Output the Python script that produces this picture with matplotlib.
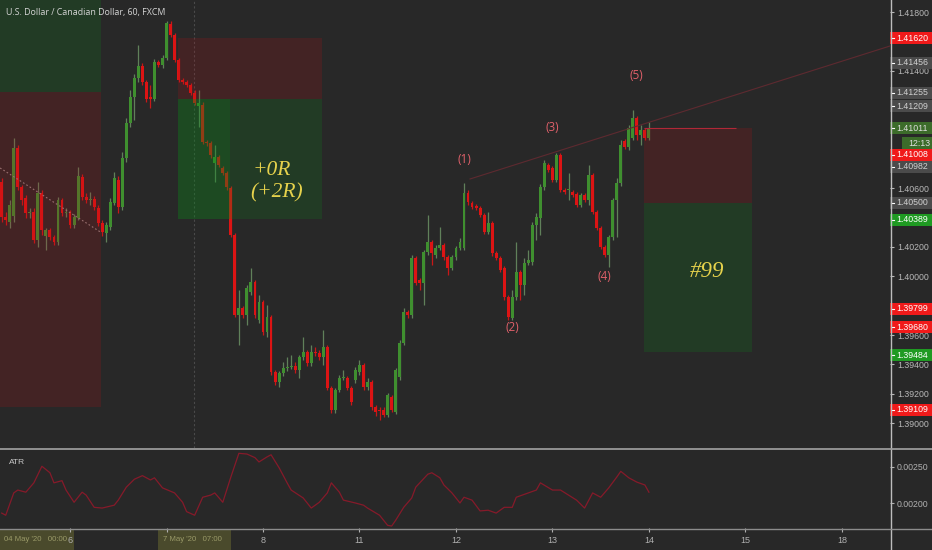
import matplotlib
matplotlib.use('Agg')
import matplotlib.pyplot as plt
import matplotlib.transforms as mtransforms
from matplotlib.patches import Rectangle
from matplotlib.lines import Line2D

plt.rcParams['font.family'] = ['Liberation Sans', 'DejaVu Sans']

# hourly USDCAD bars (bar index = hour), open/high/low/close
opens = [1.40642, 1.40404, 1.40370, 1.40411, 1.40875, 1.40608, 1.40534, 1.40432, 1.40438, 1.40248,
         1.40568, 1.40275, 1.40316, 1.40268, 1.40234, 1.40520, 1.40432, 1.40438, 1.40350, 1.40398,
         1.40676, 1.40540, 1.40520, 1.40527, 1.40466, 1.40364, 1.40296, 1.40336, 1.40500, 1.40656,
         1.40472, 1.40807, 1.41045, 1.41221, 1.41351, 1.41432, 1.41323, 1.41221, 1.41208, 1.41459,
         1.41439, 1.41488, 1.41719, 1.41644, 1.41473, 1.41337, 1.41323, 1.41303, 1.41249, 1.41160,
         1.41167, 1.40915, 1.40909, 1.40772, 1.40813, 1.40738, 1.40704, 1.40602, 1.40282, 1.39737,
         1.39785, 1.39737, 1.39893, 1.39961, 1.39703, 1.39825, 1.39621, 1.39723, 1.39348, 1.39280,
         1.39342, 1.39376, 1.39382, 1.39389, 1.39362, 1.39451, 1.39485, 1.39410, 1.39485, 1.39479,
         1.39451, 1.39519, 1.39240, 1.39090, 1.39226, 1.39308, 1.39308, 1.39240, 1.39294, 1.39348,
         1.39396, 1.39246, 1.39280, 1.39110, 1.39090, 1.39090, 1.39056, 1.39178, 1.39076, 1.39314,
         1.39547, 1.39757, 1.39737, 1.40126, 1.39975, 1.39955, 1.40166, 1.40234, 1.40146, 1.40193,
         1.40214, 1.40132, 1.40057, 1.40132, 1.40193, 1.40193, 1.40568, 1.40500, 1.40479, 1.40466,
         1.40418, 1.40302, 1.40364, 1.40159, 1.40126, 1.40057, 1.39859, 1.39716, 1.39859, 1.40029,
         1.39941, 1.40091, 1.40097, 1.40350, 1.40398, 1.40608, 1.40758, 1.40738, 1.40656, 1.40827,
         1.40588, 1.40588, 1.40574, 1.40561, 1.40486, 1.40554, 1.40520, 1.40690, 1.40438, 1.40330,
         1.40200, 1.40146, 1.40268, 1.40520, 1.40636, 1.40922, 1.40881, 1.40943, 1.41079, 1.40963,
         1.40997, 1.40943]
highs = [1.40670, 1.40438, 1.40520, 1.40943, 1.40895, 1.40622, 1.40554, 1.40466, 1.40466, 1.40642,
         1.40588, 1.40330, 1.40330, 1.40282, 1.40540, 1.40534, 1.40466, 1.40452, 1.40425, 1.40744,
         1.40697, 1.40568, 1.40574, 1.40547, 1.40486, 1.40384, 1.40370, 1.40534, 1.40710, 1.40683,
         1.40847, 1.41079, 1.41269, 1.41378, 1.41576, 1.41453, 1.41337, 1.41303, 1.41481, 1.41473,
         1.41508, 1.41739, 1.41739, 1.41658, 1.41488, 1.41351, 1.41337, 1.41317, 1.41269, 1.41269,
         1.41187, 1.40929, 1.40922, 1.40895, 1.40827, 1.40751, 1.40717, 1.40615, 1.40296, 1.39907,
         1.39798, 1.39941, 1.40057, 1.39975, 1.39873, 1.39839, 1.39805, 1.39737, 1.39362, 1.39355,
         1.39416, 1.39451, 1.39465, 1.39416, 1.39465, 1.39587, 1.39499, 1.39533, 1.39519, 1.39499,
         1.39635, 1.39533, 1.39253, 1.39240, 1.39328, 1.39362, 1.39321, 1.39253, 1.39382, 1.39430,
         1.39410, 1.39308, 1.39294, 1.39124, 1.39110, 1.39110, 1.39206, 1.39192, 1.39376, 1.39567,
         1.39785, 1.39771, 1.40146, 1.40139, 1.39989, 1.40180, 1.40418, 1.40248, 1.40214, 1.40336,
         1.40228, 1.40146, 1.40146, 1.40207, 1.40262, 1.40636, 1.40588, 1.40513, 1.40493, 1.40479,
         1.40432, 1.40438, 1.40377, 1.40173, 1.40139, 1.40070, 1.39873, 1.39907, 1.40234, 1.40043,
         1.40126, 1.40180, 1.40370, 1.40432, 1.40629, 1.40792, 1.40772, 1.40751, 1.40841, 1.40841,
         1.40602, 1.40704, 1.40588, 1.40574, 1.40568, 1.40568, 1.40758, 1.40704, 1.40452, 1.40343,
         1.40214, 1.40282, 1.40534, 1.40670, 1.40929, 1.40936, 1.41031, 1.41133, 1.41092, 1.41031,
         1.41011, 1.41051]
lows = [1.40370, 1.40350, 1.40330, 1.40370, 1.40588, 1.40486, 1.40398, 1.40398, 1.40228, 1.40200,
        1.40282, 1.40180, 1.40248, 1.40214, 1.40214, 1.40411, 1.40404, 1.40330, 1.40330, 1.40384,
        1.40520, 1.40500, 1.40486, 1.40452, 1.40343, 1.40275, 1.40234, 1.40316, 1.40486, 1.40432,
        1.40452, 1.40778, 1.41017, 1.41065, 1.41323, 1.41303, 1.41187, 1.41147, 1.41194, 1.41425,
        1.41419, 1.41473, 1.41630, 1.41459, 1.41323, 1.41310, 1.41289, 1.41235, 1.41167, 1.41017,
        1.40902, 1.40888, 1.40807, 1.40642, 1.40744, 1.40690, 1.40588, 1.40268, 1.39723, 1.39533,
        1.39716, 1.39669, 1.39873, 1.39716, 1.39683, 1.39601, 1.39587, 1.39328, 1.39260, 1.39246,
        1.39321, 1.39355, 1.39369, 1.39342, 1.39308, 1.39430, 1.39389, 1.39389, 1.39458, 1.39430,
        1.39396, 1.39226, 1.39070, 1.39070, 1.39212, 1.39294, 1.39226, 1.39124, 1.39274, 1.39328,
        1.39226, 1.39226, 1.39090, 1.39049, 1.39022, 1.39042, 1.39042, 1.39076, 1.39063, 1.39294,
        1.39533, 1.39716, 1.39716, 1.39941, 1.39907, 1.39805, 1.40146, 1.40077, 1.40126, 1.40180,
        1.40111, 1.40009, 1.40043, 1.40111, 1.40180, 1.40180, 1.40486, 1.40459, 1.40452, 1.40404,
        1.40289, 1.40289, 1.40139, 1.40111, 1.40029, 1.39839, 1.39703, 1.39703, 1.39839, 1.39839,
        1.39873, 1.40077, 1.40077, 1.40248, 1.40282, 1.40588, 1.40710, 1.40642, 1.40642, 1.40574,
        1.40561, 1.40520, 1.40540, 1.40472, 1.40472, 1.40506, 1.40486, 1.40425, 1.40316, 1.40187,
        1.40132, 1.40063, 1.40248, 1.40268, 1.40615, 1.40868, 1.40861, 1.40929, 1.40929, 1.40895,
        1.40929, 1.40929]
closes = [1.40404, 1.40384, 1.40486, 1.40875, 1.40608, 1.40520, 1.40432, 1.40438, 1.40248, 1.40568,
          1.40316, 1.40316, 1.40268, 1.40234, 1.40520, 1.40432, 1.40438, 1.40350, 1.40404, 1.40683,
          1.40540, 1.40520, 1.40527, 1.40472, 1.40364, 1.40302, 1.40350, 1.40506, 1.40670, 1.40472,
          1.40807, 1.41045, 1.41221, 1.41351, 1.41432, 1.41323, 1.41208, 1.41208, 1.41459, 1.41439,
          1.41488, 1.41726, 1.41644, 1.41473, 1.41337, 1.41323, 1.41303, 1.41249, 1.41181, 1.41181,
          1.40915, 1.40909, 1.40827, 1.40813, 1.40758, 1.40704, 1.40608, 1.40282, 1.39737, 1.39785,
          1.39737, 1.39921, 1.39961, 1.39737, 1.39825, 1.39621, 1.39723, 1.39348, 1.39280, 1.39342,
          1.39376, 1.39382, 1.39389, 1.39362, 1.39451, 1.39485, 1.39410, 1.39485, 1.39479, 1.39451,
          1.39519, 1.39240, 1.39090, 1.39226, 1.39308, 1.39314, 1.39240, 1.39144, 1.39362, 1.39396,
          1.39246, 1.39280, 1.39110, 1.39076, 1.39083, 1.39056, 1.39192, 1.39090, 1.39362, 1.39547,
          1.39757, 1.39737, 1.40126, 1.39955, 1.39955, 1.40166, 1.40234, 1.40159, 1.40193, 1.40214,
          1.40132, 1.40057, 1.40132, 1.40193, 1.40234, 1.40568, 1.40506, 1.40472, 1.40466, 1.40418,
          1.40302, 1.40364, 1.40159, 1.40126, 1.40043, 1.39859, 1.39723, 1.39859, 1.40029, 1.39941,
          1.40091, 1.40111, 1.40350, 1.40404, 1.40608, 1.40772, 1.40724, 1.40656, 1.40827, 1.40588,
          1.40574, 1.40590, 1.40554, 1.40486, 1.40554, 1.40520, 1.40690, 1.40438, 1.40330, 1.40200,
          1.40146, 1.40268, 1.40520, 1.40636, 1.40895, 1.40881, 1.41011, 1.41079, 1.40963, 1.40997,
          1.40943, 1.41008]

# ATR(14)
atr_hours = [0, 1, 3, 4, 6, 8, 10, 12, 13, 15, 16, 18, 20, 21, 23, 25, 28, 29, 31, 33,
             35, 37, 38, 40, 43, 45, 46, 48, 50, 52, 53, 55, 57, 59, 61, 63, 64, 66, 67, 69,
             71, 72, 75, 77, 79, 81, 82, 84, 85, 88, 90, 91, 94, 96, 97, 98, 100, 102, 103, 106,
             107, 109, 110, 112, 114, 115, 117, 119, 121, 123, 125, 127, 128, 131, 133, 134, 137, 139, 141, 143,
             145, 147, 149, 151, 153, 154, 156, 158, 160, 161]
atr_vals = [0.00186, 0.00183, 0.00214, 0.00218, 0.00215, 0.00228, 0.00251, 0.00242, 0.00228, 0.00231,
            0.00218, 0.00201, 0.00215, 0.00211, 0.00194, 0.00193, 0.00197, 0.00204, 0.00222, 0.00233,
            0.00238, 0.00232, 0.00235, 0.00221, 0.00214, 0.00201, 0.00188, 0.00183, 0.00208, 0.00211,
            0.00214, 0.00201, 0.00236, 0.00269, 0.00268, 0.00263, 0.00257, 0.00264, 0.00267, 0.00249,
            0.00228, 0.00218, 0.00207, 0.00193, 0.00201, 0.00214, 0.00228, 0.00215, 0.00204, 0.00200,
            0.00197, 0.00193, 0.00183, 0.00169, 0.00168, 0.00176, 0.00194, 0.00207, 0.00222, 0.00240,
            0.00242, 0.00235, 0.00225, 0.00214, 0.00200, 0.00208, 0.00204, 0.00189, 0.00190, 0.00186,
            0.00194, 0.00194, 0.00208, 0.00214, 0.00218, 0.00228, 0.00218, 0.00218, 0.00211, 0.00204,
            0.00193, 0.00214, 0.00208, 0.00221, 0.00236, 0.00244, 0.00235, 0.00229, 0.00225, 0.00215]

# time axis ("7" is shown by the selected-range label)
day_ticks = [17, 41, 65, 89, 113, 137, 161, 185, 209]
day_labels = ['6', '', '8', '11', '12', '13', '14', '15', '18']
# price axis; levels hidden under badges get no label
price_ticks = [1.390, 1.392, 1.394, 1.396, 1.398, 1.400, 1.402, 1.404, 1.406,
               1.408, 1.410, 1.412, 1.414, 1.416, 1.418]
price_labels = ['1.39000', '1.39200', '1.39400', '1.39600', '', '1.40000', '1.40200', '', '1.40600',
                '', '', '', '1.41400', '', '1.41800']

# position tools: (start hour, end hour, low price, high price, kind)
zones = [(-5, 24.7, 1.41255, 1.4300, 'win'),
         (-5, 24.7, 1.39109, 1.41255, 'loss'),
         (43.9, 79.7, 1.41209, 1.41620, 'loss'),
         (43.9, 79.7, 1.40389, 1.41209, 'win'),
         (43.9, 56.8, 1.40389, 1.41209, 'win'),
         (159.8, 186.6, 1.40500, 1.41011, 'loss'),
         (159.8, 186.6, 1.39484, 1.40500, 'win')]

wave_labels = ['(1)', '(2)', '(3)', '(4)', '(5)']
wave_hours = [115, 127, 137, 150, 158]
wave_prices = [1.40799, 1.39649, 1.41017, 1.40002, 1.41371]

# price scale badges (label, shown at, colour kind)
badge_text = ['1.41620', '1.41456', '1.41255', '1.41209', '1.41011', '12:13', '1.41008',
              '1.40982', '1.40500', '1.40389', '1.39799', '1.39680', '1.39484', '1.39109']
badge_at = [1.41623, 1.41453, 1.41249, 1.41160, 1.41010, 1.40908, 1.40827,
            1.40745, 1.40500, 1.40384, 1.39778, 1.39655, 1.39464, 1.39090]
badge_kind = ['red', 'grey', 'grey', 'grey', 'dgreen', 'dgreen', 'red',
              'grey', 'grey', 'green', 'red', 'red', 'green', 'red']

BG = '#282828'
UP = '#3f8f2f'
DOWN = '#dc1414'
badge_fc = {'red': '#f01a1a', 'grey': '#4b4b4b', 'green': '#1f9a22', 'dgreen': '#3c6c2a'}
badge_tc = {'red': 'white', 'grey': '#d0d0d0', 'green': 'white', 'dgreen': '#e0e0e0'}

fig = plt.figure(figsize=(9.32, 5.5), dpi=100, facecolor=BG)
ax = fig.add_axes([0, 1 - 448/550, 890/932, 448/550], facecolor=BG)
ax_atr = fig.add_axes([0, 1 - 528/550, 890/932, 78/550], facecolor=BG, sharex=ax)
strip = fig.add_axes([890/932, 1 - 448/550, 42/932, 448/550], sharey=ax)

# candles
idx = list(range(len(closes)))
body_col = [UP if c >= o else DOWN for o, c in zip(opens, closes)]
wick_col = ['#60805a' if c >= o else '#c81818' for o, c in zip(opens, closes)]
bottoms = [min(o, c) for o, c in zip(opens, closes)]
heights = [max(abs(c - o), 0.00004) for o, c in zip(opens, closes)]
ax.vlines(idx, lows, highs, colors=wick_col, lw=0.9, zorder=2)
ax.bar(idx, heights, bottom=bottoms, width=0.72, color=body_col, lw=0, zorder=3)

# position tool shading
for h0, h1, lo, hi, kind in zones:
    fc = '#0a8a1a' if kind == 'win' else '#b01018'
    ax.add_patch(Rectangle((h0, lo), h1 - h0, hi - lo, fc=fc, ec='none', alpha=0.2, zorder=4))
ax.hlines(1.41011, 159.8, 182.7, color='#b02838', lw=0.8, zorder=5)

# drawings
ax.plot([116.5, 221], [1.40663, 1.41569], color='#5e2a30', lw=0.8, zorder=5)
ax.plot([-0.4, 24.9], [1.40738, 1.40296], color='#9a7070', lw=0.8, ls=(0, (1.5, 2)), zorder=5)
ax.axvline(47.8, color='#4a4a4a', lw=0.8, ls=(0, (2, 2)), zorder=1)

for lab, hh, pp in zip(wave_labels, wave_hours, wave_prices):
    ax.text(hh, pp, lab, color='#e0606a', fontsize=8.5, ha='center', va='center',
            family=['Open Sans', 'DejaVu Sans'], zorder=6)

rfont = dict(family=['Liberation Serif', 'DejaVu Serif'], style='italic', color='#e6d24c', zorder=6)
ax.text(62.3, 1.40724, '+0R', fontsize=15.5, ha='left', va='center', **rfont)
ax.text(61.8, 1.40568, '(+2R)', fontsize=15.5, ha='left', va='center', **rfont)
ax.text(175.4, 1.40030, '#99', fontsize=16.5, ha='center', va='center', **rfont)

ax.set_xlim(-0.423, 220.97)
ax.set_ylim(1.38831, 1.41882)
ax.yaxis.tick_right()
ax.set_yticks(price_ticks)
ax.set_yticklabels(price_labels)
ax.tick_params(axis='y', colors='#b8b8b8', labelsize=6.3, length=3, pad=2, width=0.8)
ax.tick_params(axis='x', bottom=False, labelbottom=False)
for s in ax.spines.values():
    s.set_visible(False)

# badges on the price scale
strip.set_xlim(0, 1)
strip.axis('off')
bh = 0.00082
for lab, pp, kind in zip(badge_text, badge_at, badge_kind):
    x0 = 0.28 if ':' in lab else 0.0
    strip.add_patch(Rectangle((x0, pp - bh/2), 1 - x0, bh, fc=badge_fc[kind], ec='none', clip_on=False))
    if x0 == 0.0:
        strip.plot([0.02, 0.09], [pp, pp], color='white', lw=0.8, clip_on=False)
    strip.text(x0 + 0.16, pp, lab, color=badge_tc[kind], fontsize=6.3, va='center', ha='left', clip_on=False)
strip.set_ylim(1.38831, 1.41882)

# ATR pane
ax_atr.plot(atr_hours, atr_vals, color='#861a2a', lw=0.9)
ax_atr.set_ylim(0.001653, 0.002736)
ax_atr.yaxis.tick_right()
ax_atr.set_yticks([0.0020, 0.0025])
ax_atr.set_yticklabels(['0.00200', '0.00250'])
ax_atr.tick_params(axis='y', colors='#b0b0b0', labelsize=6.3, length=3, pad=2, width=0.8)
ax_atr.set_xticks(day_ticks)
ax_atr.set_xticklabels(day_labels)
ax_atr.tick_params(axis='x', colors='#b0b0b0', labelsize=6.5, length=3, pad=3, width=0.8)
for s in ax_atr.spines.values():
    s.set_visible(False)
ax_atr.text(0.01, 0.84, 'ATR', transform=ax_atr.transAxes, fontsize=6, color='#c8c8c8', va='center')

# selected drawing's date range labels (box under the tick labels, text on top)
blend = mtransforms.blended_transform_factory(ax_atr.transData, ax_atr.transAxes)
for h0, h1, tx, lab in [(-0.42, 18.0, 0.6, "04 May '20   00:00"), (38.9, 57.0, 40.2, "7 May '20   07:00")]:
    ax_atr.add_patch(Rectangle((h0, -0.28), h1 - h0, 0.26, transform=blend, fc='#4a4a2c',
                               ec='none', clip_on=False, zorder=1))
    ax_atr.text(tx, -0.15, lab, transform=blend, fontsize=5.6, color='#9a9a68',
                ha='left', va='center', zorder=6, clip_on=False)

# pane separators and price-scale border
fig.add_artist(Line2D([890.5/932, 890.5/932], [0, 1], color='#bdbdbd', lw=1))
fig.add_artist(Line2D([0, 1], [1 - 448.5/550, 1 - 448.5/550], color='#9a9a9a', lw=1.3))
fig.add_artist(Line2D([0, 1], [1 - 528.5/550, 1 - 528.5/550], color='#8c8c8c', lw=1))

fig.text(6/932, 1 - 13/550, 'U.S. Dollar / Canadian Dollar, 60, FXCM', color='#d4d4d4',
         fontsize=6.4, va='center', family=['Open Sans', 'DejaVu Sans'])

fig.savefig('out.png', dpi=100, facecolor=BG)
